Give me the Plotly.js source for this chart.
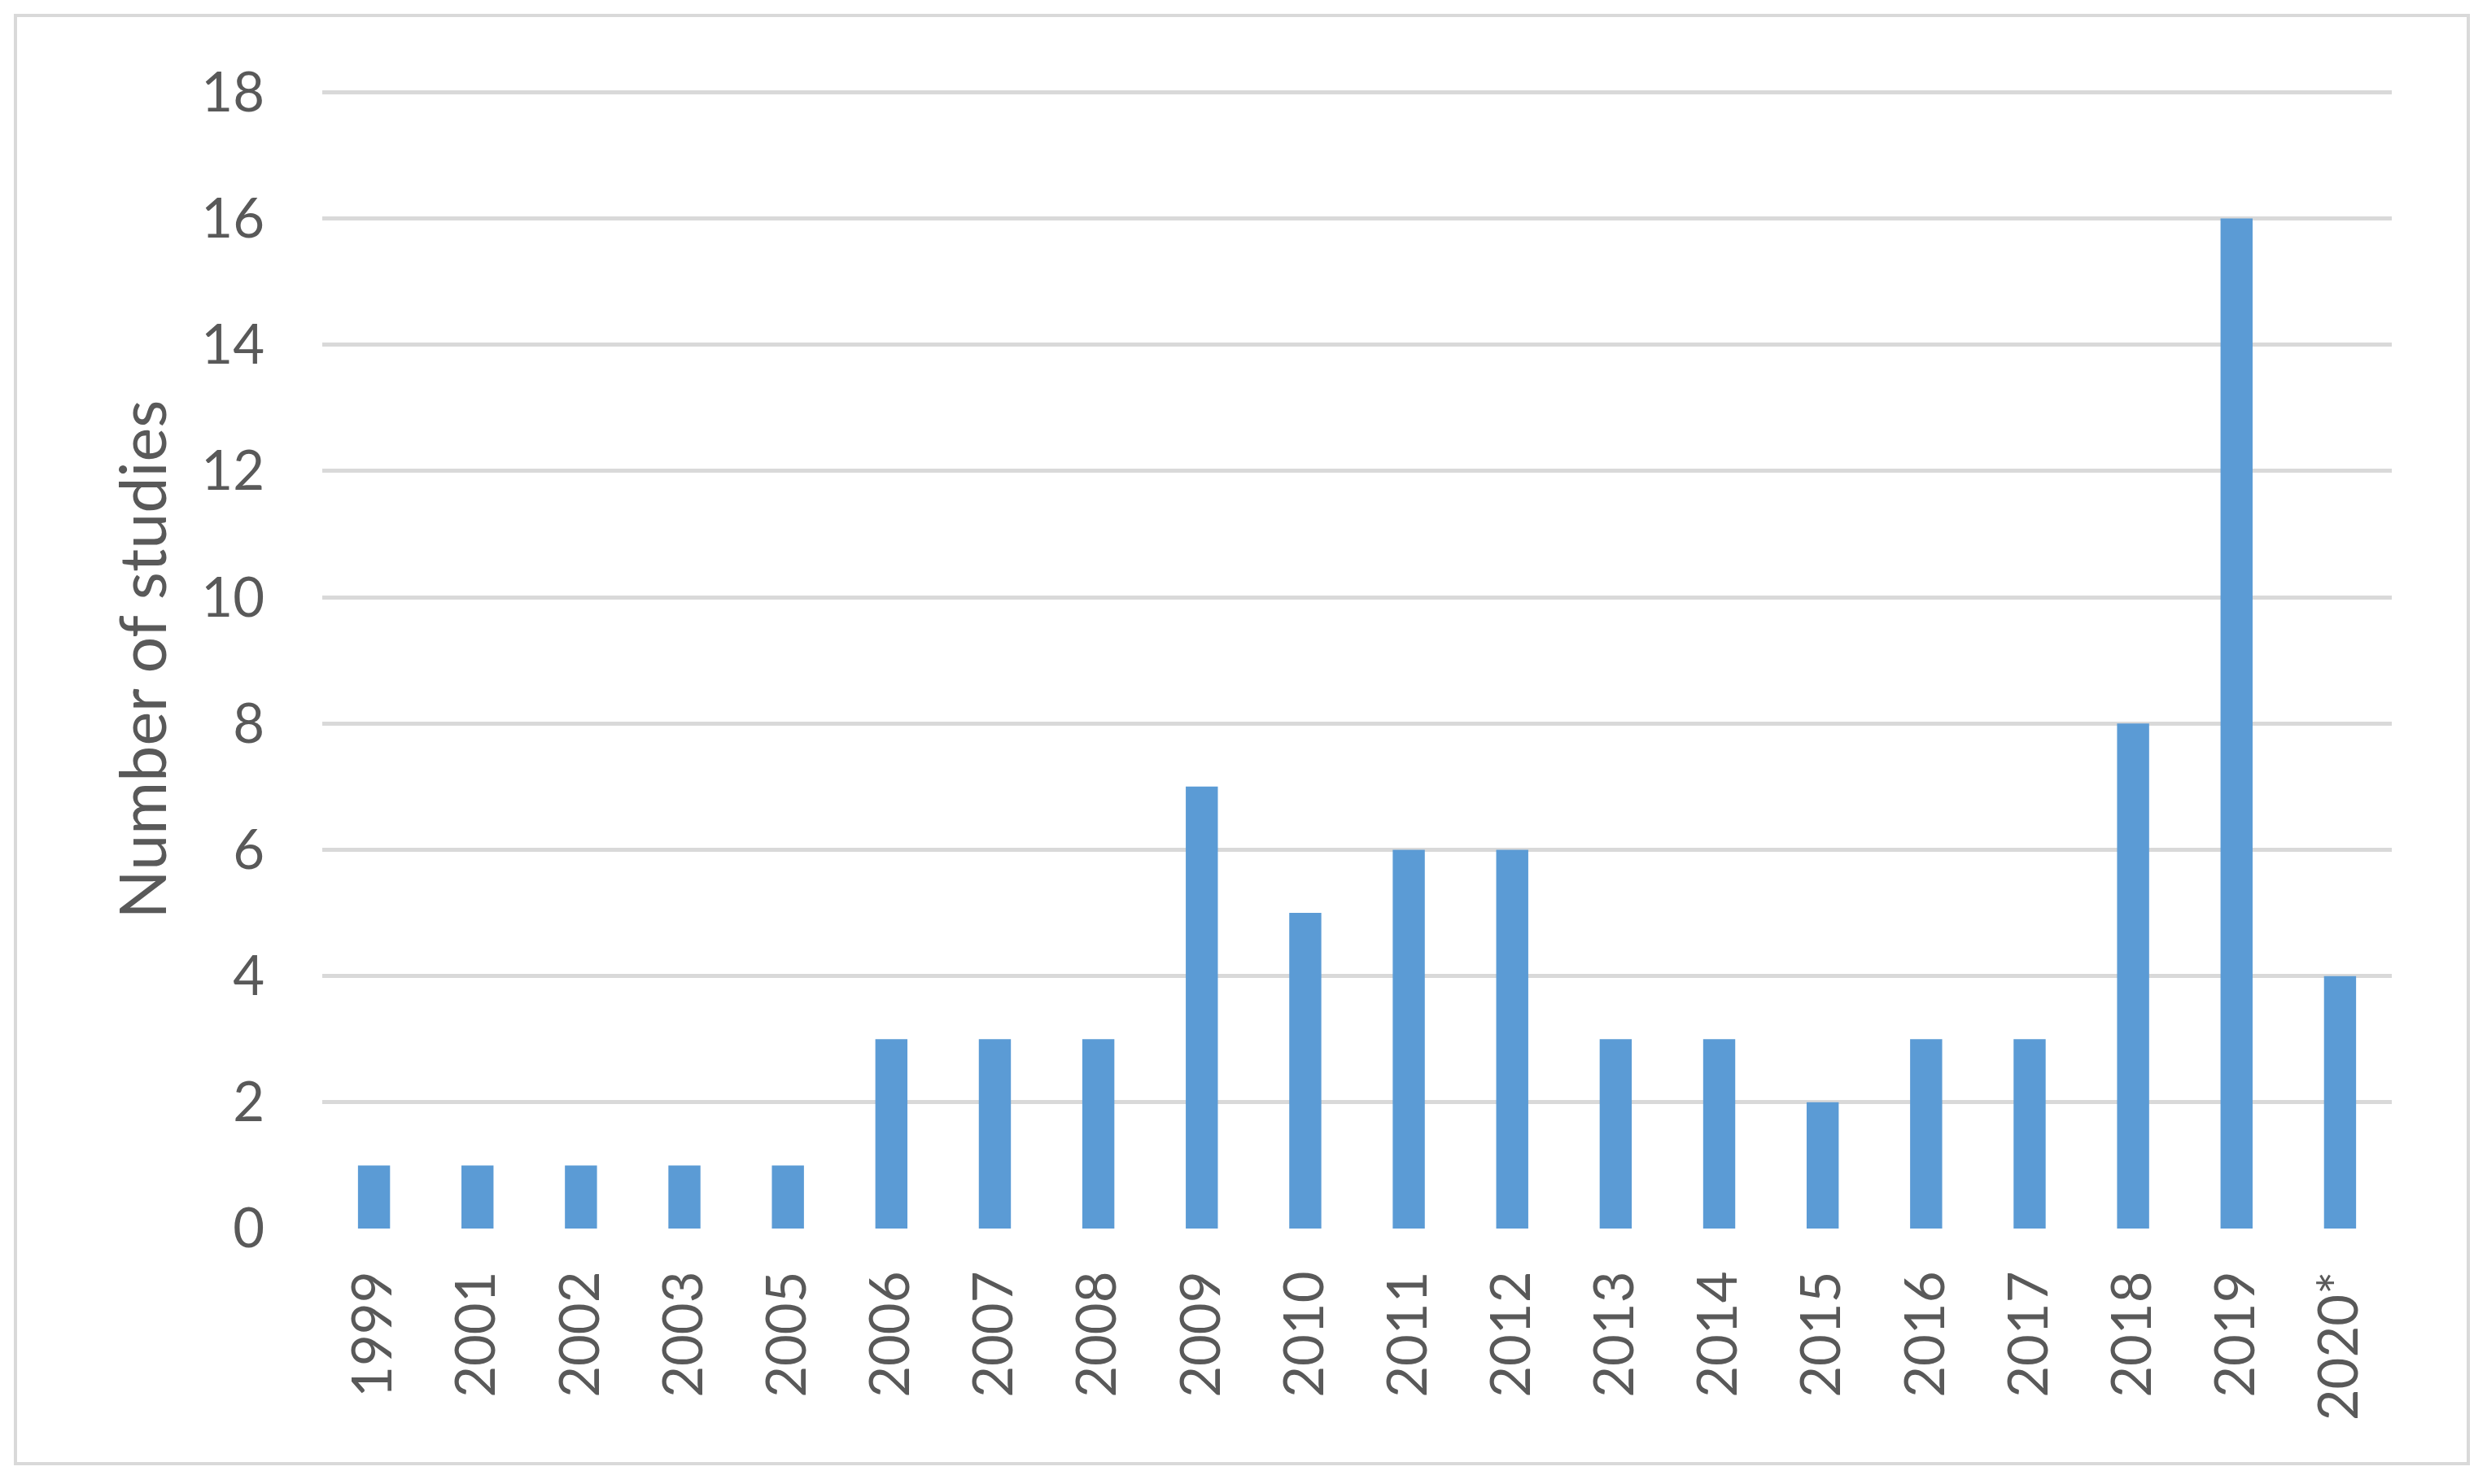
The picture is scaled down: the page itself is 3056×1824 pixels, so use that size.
<!DOCTYPE html>
<html>
<head>
<meta charset="utf-8">
<script src="https://cdn.plot.ly/plotly-3.0.1.min.js"></script>
<style>
  html, body { margin: 0; padding: 0; background: #fff; }
  #chart { width: 3056px; height: 1824px; }
</style>
</head>
<body>
<div id="chart"></div>
<script>
'use strict';

const years = ['1999', '2001', '2002', '2003', '2005', '2006', '2007', '2008', '2009', '2010',
    '2011', '2012', '2013', '2014', '2015', '2016', '2017', '2018', '2019', '2020*'];
const studies = [1, 1, 1, 1, 1, 3, 3, 3, 7, 5, 6, 6, 3, 3, 2, 3, 3, 8, 16, 4];
const yTicks = [0, 2, 4, 6, 8, 10, 12, 14, 16, 18];

const W = 3056, H = 1824;
const plotL = 396, plotR = 2939, plotT = 111, plotB = 1510;
const pw = plotR - plotL, ph = plotB - plotT;
// outer frame, in pixels, turned into paper coords
const frame = { l: 19, r: 3033, t: 19, b: 1799 };

const txt = '#595959', grid = '#d9d9d9', font = 'Lato, "Liberation Sans", sans-serif';

Plotly.newPlot('chart', [{
    type: 'bar', x: years, y: studies,
    marker: { color: '#5b9bd5' },
    width: 0.31,
    hoverinfo: 'x+y',
}], {
    width: W, height: H,
    margin: { l: plotL, r: W - plotR, t: plotT, b: H - plotB, pad: 0 },
    paper_bgcolor: '#fff', plot_bgcolor: '#fff',
    font: { family: font, color: txt, size: 66 },
    showlegend: false,
    xaxis: {
        type: 'category', tickangle: -90, showgrid: false, showline: false, zeroline: false,
        ticks: '', ticklabelstandoff: 38, tickfont: { size: 67, color: txt },
    },
    yaxis: {
        range: [0, 18.03], tickvals: yTicks, showgrid: true, gridcolor: grid, gridwidth: 5,
        zeroline: false, showline: false, ticks: '', ticklabelstandoff: 70,
        tickfont: { size: 67, color: txt },
        title: { text: 'Number of studies', font: { size: 79, color: txt }, standoff: 16 },
    },
    shapes: [{
        type: 'rect', xref: 'paper', yref: 'paper', layer: 'below',
        x0: (frame.l - plotL) / pw, x1: (frame.r - plotL) / pw,
        y0: (plotB - frame.b) / ph, y1: (plotB - frame.t) / ph,
        line: { color: grid, width: 4 },
    }],
}, { displayModeBar: false, staticPlot: true });
</script>
</body>
</html>
